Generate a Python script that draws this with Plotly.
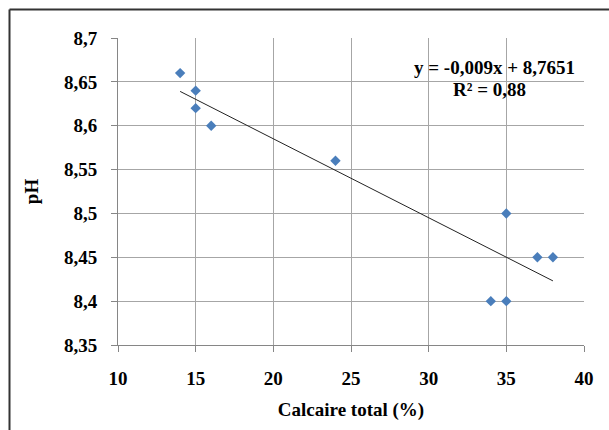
import plotly.graph_objects as go

calcaire = [14, 15, 15, 16, 24, 34, 35, 35, 37, 38]
ph = [8.66, 8.64, 8.62, 8.60, 8.56, 8.40, 8.40, 8.50, 8.45, 8.45]
slope = -0.009
intercept = 8.7651
r2 = 0.88
x_ticks = [10, 15, 20, 25, 30, 35, 40]
y_ticks = [8.35, 8.4, 8.45, 8.5, 8.55, 8.6, 8.65, 8.7]
y_labels = ["8,35", "8,4", "8,45", "8,5", "8,55", "8,6", "8,65", "8,7"]

xmin, xmax = min(calcaire), max(calcaire)
trend_x = [xmin, xmax]
trend_y = [slope * v + intercept for v in trend_x]

FONT = "Times New Roman, Liberation Serif, serif"
W, H = 609, 430
L, R, T, B = 118, 25, 38, 85

fig = go.Figure()
fig.add_trace(go.Scatter(x=trend_x, y=trend_y, mode="lines",
                         line=dict(color="#222222", width=1), hoverinfo="skip"))
fig.add_trace(go.Scatter(x=calcaire, y=ph, mode="markers",
                         marker=dict(symbol="diamond", size=8, color="#4a7ebb",
                                     line=dict(width=0))))

def px2paper_x(px):
    return (px - L) / (W - L - R)

def px2paper_y(py):
    return (H - B - py) / (H - T - B)

# outer frame (left and top edges visible)
fx0, fy0 = px2paper_x(9.5), px2paper_y(9.5)
fx1, fy1 = px2paper_x(640), px2paper_y(460)
fig.add_shape(type="line", xref="paper", yref="paper", x0=fx0, y0=fy0, x1=fx0, y1=fy1,
              line=dict(color="#333333", width=2))
fig.add_shape(type="line", xref="paper", yref="paper", x0=fx0, y0=fy0, x1=fx1, y1=fy0,
              line=dict(color="#333333", width=2))

fig.add_annotation(x=px2paper_x(577), y=px2paper_y(67), xref="paper", yref="paper",
                   text="<b>y = -0,009x + 8,7651</b>", showarrow=False,
                   xanchor="right", yanchor="middle",
                   font=dict(family=FONT, size=19, color="black"))
fig.add_annotation(x=px2paper_x(489), y=px2paper_y(90), xref="paper", yref="paper",
                   text="<b>R² = 0,88</b>", showarrow=False,
                   xanchor="center", yanchor="middle",
                   font=dict(family=FONT, size=19, color="black"))

fig.update_layout(
    width=W, height=H,
    margin=dict(l=L, r=R, t=T, b=B),
    paper_bgcolor="white", plot_bgcolor="white",
    showlegend=False,
    font=dict(family=FONT, color="black"),
)
fig.update_xaxes(range=[10, 40], tickvals=x_ticks, ticktext=[f"<b>{v}</b>" for v in x_ticks],
                 showgrid=True, gridcolor="#a6a6a6", gridwidth=1,
                 showline=True, linecolor="#868686", linewidth=1,
                 ticks="outside", ticklen=6, tickcolor="#868686",
                 zeroline=False, ticklabelstandoff=10,
                 tickfont=dict(family=FONT, size=19, color="black"),
                 title=dict(text="<b>Calcaire total (%)</b>", standoff=14,
                            font=dict(family=FONT, size=19, color="black")))
fig.update_yaxes(range=[8.35, 8.7], tickvals=y_ticks, ticktext=[f"<b>{t}</b>" for t in y_labels],
                 showgrid=True, gridcolor="#a6a6a6", gridwidth=1,
                 showline=True, linecolor="#868686", linewidth=1,
                 ticks="outside", ticklen=6, tickcolor="#868686",
                 zeroline=False, ticklabelstandoff=10,
                 tickfont=dict(family=FONT, size=19, color="black"),
                 title=dict(text="<b>pH</b>", standoff=20,
                            font=dict(family=FONT, size=19, color="black")))

fig.write_html("out.html")
